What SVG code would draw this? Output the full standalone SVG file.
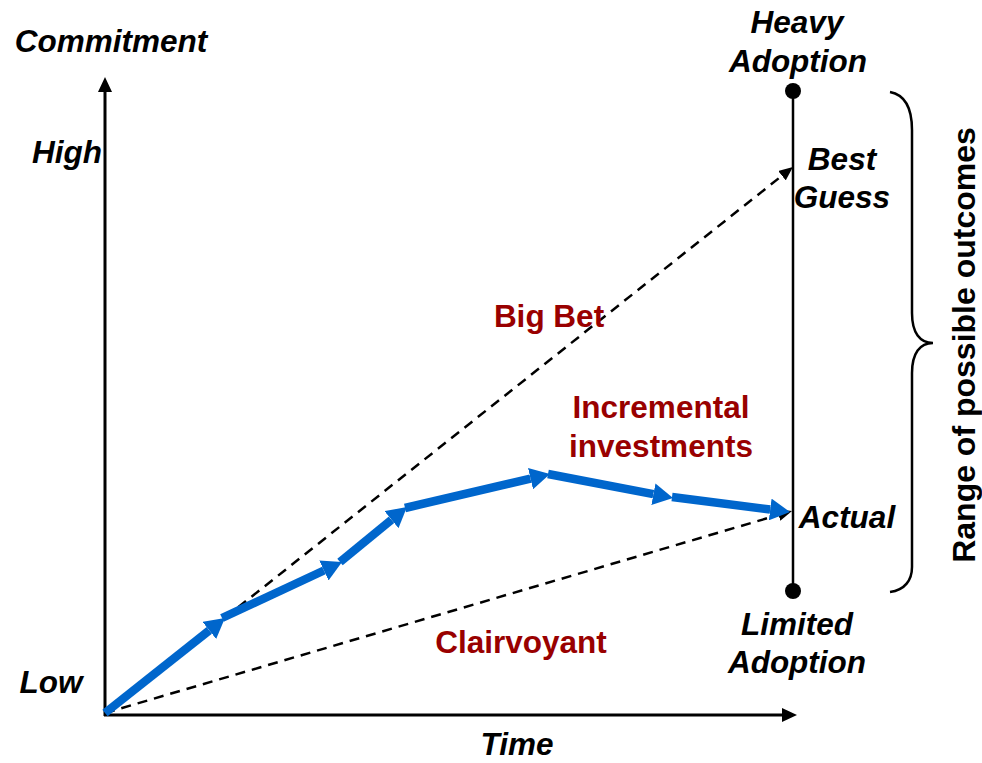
<svg xmlns="http://www.w3.org/2000/svg" width="982" height="763" viewBox="0 0 982 763">
  <style>
    .lbl { font-family: "Liberation Sans", Arial, sans-serif; font-weight: bold; font-style: italic; font-size: 31.5px; fill: #000; text-anchor: middle; }
    .red { font-family: "Liberation Sans", Arial, sans-serif; font-weight: bold; font-size: 31.5px; fill: #990000; text-anchor: middle; }
    .range { font-family: "Liberation Sans", Arial, sans-serif; font-weight: bold; font-size: 32px; fill: #000; text-anchor: middle; }
    .axis { stroke: #000; stroke-width: 3; fill: none; }
    .dash { stroke: #000; stroke-width: 2.5; stroke-dasharray: 10 7; fill: none; }
    .step { stroke: #0066cc; stroke-width: 8.5; fill: none; marker-end: url(#blueHead); }
  </style>
  <defs>
    <marker id="blueHead" markerUnits="userSpaceOnUse" viewBox="0 0 20 22" markerWidth="20" markerHeight="22" refX="0" refY="11" orient="auto">
      <path d="M0,0 L20,11 L0,22 z" fill="#0066cc"/>
    </marker>
    <marker id="blackHead" markerUnits="userSpaceOnUse" viewBox="0 0 14 12" markerWidth="14" markerHeight="12" refX="0" refY="6" orient="auto">
      <path d="M0,0 L14,6 L0,12 z" fill="#000"/>
    </marker>
  </defs>

  <!-- axes -->
  <g id="axes">
    <line class="axis" x1="105" y1="716" x2="105" y2="90"/>
    <path d="M98,92 L105,77 L112,92 z" fill="#000"/>
    <line class="axis" x1="104" y1="715" x2="783" y2="715"/>
    <path d="M782,708 L797,715 L782,722 z" fill="#000"/>
  </g>

  <!-- range of outcomes scale -->
  <g id="outcome-scale">
    <line x1="793" y1="91" x2="793" y2="591" stroke="#000" stroke-width="2.5"/>
    <circle cx="793" cy="91" r="8" fill="#000"/>
    <circle cx="793" cy="591" r="8" fill="#000"/>
  </g>

  <g id="brace">
    <path d="M890,92 C906,95 912,110 912,130 L912,313 C912,333 920,343 933,343 C920,343 912,353 912,373 L912,567 C912,580 905,590 890,592" stroke="#000" stroke-width="2.5" fill="none"/>
  </g>

  <!-- connectors -->
  <g id="connectors">
    <line class="dash" x1="105" y1="713" x2="782" y2="175.7" marker-end="url(#blackHead)"/>
    <line class="dash" x1="105" y1="713" x2="778.6" y2="514.9" marker-end="url(#blackHead)"/>
    <line class="step" x1="105" y1="713" x2="209.3" y2="630.4"/>
    <line class="step" x1="222" y1="618" x2="323.9" y2="570.5"/>
    <line class="step" x1="340" y1="562" x2="391.5" y2="519.7"/>
    <line class="step" x1="405" y1="508" x2="530.5" y2="478.6"/>
    <line class="step" x1="548" y1="474" x2="653.4" y2="494.2"/>
    <line class="step" x1="672" y1="497" x2="770.2" y2="509.5"/>
  </g>

  <!-- axis labels -->
  <g id="label-commitment"><text class="lbl" x="111" y="52">Commitment</text></g>
  <g id="label-high"><text class="lbl" x="67" y="163">High</text></g>
  <g id="label-low"><text class="lbl" x="51" y="693">Low</text></g>
  <g id="label-time"><text class="lbl" x="517" y="755">Time</text></g>

  <!-- outcome labels -->
  <g id="label-heavy"><text class="lbl" x="797" y="33">Heavy</text><text class="lbl" x="798" y="72">Adoption</text></g>
  <g id="label-best"><text class="lbl" x="842" y="170">Best</text><text class="lbl" x="842" y="208">Guess</text></g>
  <g id="label-actual"><text class="lbl" x="847" y="528">Actual</text></g>
  <g id="label-limited"><text class="lbl" x="797" y="635">Limited</text><text class="lbl" x="797" y="673">Adoption</text></g>

  <!-- strategy labels -->
  <g id="label-bigbet"><text class="red" x="549" y="327">Big Bet</text></g>
  <g id="label-incremental"><text class="red" x="661" y="418">Incremental</text><text class="red" x="661" y="457">investments</text></g>
  <g id="label-clairvoyant"><text class="red" x="521" y="653">Clairvoyant</text></g>

  <g id="label-range"><text class="range" transform="translate(975,345) rotate(-90)">Range of possible outcomes</text></g>
</svg>
